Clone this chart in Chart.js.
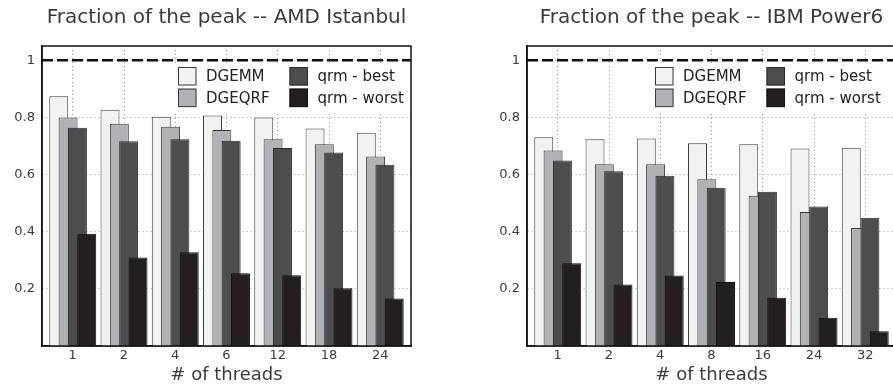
<!DOCTYPE html>
<html>
<head>
<meta charset="utf-8">
<script src="https://cdn.jsdelivr.net/npm/chart.js@4"></script>
<style>
  html, body { margin: 0; padding: 0; background: #fff; overflow: hidden; }
  #wrap { position: relative; width: 893px; height: 388px; overflow: hidden; }
  canvas { position: absolute; top: 0; }
  #amdChart { left: 0; }
  #ibmChart { left: 485px; }
</style>
</head>
<body>
<div id="wrap">
  <canvas id="amdChart" width="434" height="388"></canvas>
  <canvas id="ibmChart" width="434" height="388"></canvas>
</div>
<script>
// categories (# of threads)
const threadsAMD = ['1', '2', '4', '6', '12', '18', '24'];
const threadsIBM = ['1', '2', '4', '8', '16', '24', '32'];

// series names
const seriesNames = ['DGEMM', 'DGEQRF', 'qrm - best', 'qrm - worst'];

// AMD Istanbul values
const amdDgemm = [0.874, 0.827, 0.802, 0.807, 0.800, 0.761, 0.746];
const amdDgeqrf = [0.800, 0.778, 0.767, 0.756, 0.724, 0.706, 0.663];
const amdQrmBest = [0.764, 0.717, 0.724, 0.718, 0.693, 0.677, 0.634];
const amdQrmWorst = [0.393, 0.310, 0.328, 0.255, 0.248, 0.202, 0.166];

// IBM Power6 values
const ibmDgemm = [0.731, 0.724, 0.726, 0.710, 0.706, 0.691, 0.694];
const ibmDgeqrf = [0.684, 0.636, 0.636, 0.584, 0.526, 0.469, 0.413];
const ibmQrmBest = [0.649, 0.612, 0.596, 0.554, 0.540, 0.488, 0.449];
const ibmQrmWorst = [0.290, 0.215, 0.247, 0.224, 0.169, 0.099, 0.052];

// y axis ticks and the peak reference line
const yTickValues = [0.2, 0.4, 0.6, 0.8, 1];
const yTickLabels = ['0.2', '0.4', '0.6', '0.8', '1'];
const peakLevel = 1;

// styles
const fillColors = ['#f1f2f2', '#b1b2b5', '#4d4d4f', '#231f20'];
const edgeColors = ['#3a3a3a', '#3a3a3a', '#2a2a2a', '#111111'];
const FONT = '"DejaVu Sans", sans-serif';
const TEXT = '#3a3a3a';

// bars of one group overlap: each series sits on its own hidden axis, shifted a bit
const X_MIN = 0.4, X_MAX = 7.6;
const barShift = [-0.273, -0.091, 0.091, 0.273];

// dashed peak line, legend and the full axes frame
const plotExtras = {
  id: 'plotExtras',
  afterDatasetsDraw(chart) {
    const { ctx, chartArea: a, scales } = chart;
    const y = scales.y.getPixelForValue(peakLevel);
    ctx.save();
    ctx.strokeStyle = '#111';
    ctx.lineWidth = 2.5;
    ctx.setLineDash([11, 4]);
    ctx.beginPath();
    ctx.moveTo(a.left, y);
    ctx.lineTo(a.right, y);
    ctx.stroke();
    ctx.restore();
  },
  afterDraw(chart, args, opts) {
    const { ctx, chartArea: a } = chart;
    ctx.save();
    // legend
    const x0 = a.left + opts.legendLeft;
    const y0 = a.top + 21;
    const box = 18.5, rowGap = 21.6, colGap = 111.5;
    ctx.fillStyle = '#fff';
    ctx.fillRect(x0 - 4, y0 - 4, colGap + 105, rowGap + box + 8);
    ctx.font = '15px ' + FONT;
    ctx.textBaseline = 'middle';
    seriesNames.forEach((name, i) => {
      const bx = x0 + Math.floor(i / 2) * colGap;
      const by = y0 + (i % 2) * rowGap;
      ctx.fillStyle = fillColors[i];
      ctx.fillRect(bx, by, box, box);
      ctx.strokeStyle = edgeColors[i];
      ctx.lineWidth = 1;
      ctx.strokeRect(bx + 0.5, by + 0.5, box - 1, box - 1);
      ctx.fillStyle = '#222';
      ctx.fillText(name, bx + 28, by + box / 2 + 1);
    });
    // top / right frame of the axes box
    ctx.strokeStyle = '#111';
    ctx.lineWidth = 1.5;
    ctx.strokeRect(a.left, a.top, a.right - a.left, a.bottom - a.top);
    ctx.restore();
  }
};

const makeChart = (canvasId, title, labels, series, legendLeft) => {
  const hiddenAxes = {};
  barShift.forEach((s, k) => {
    hiddenAxes['xs' + k] = {
      type: 'linear', display: false, offset: false,
      min: X_MIN - s, max: X_MAX - s
    };
  });

  return new Chart(document.getElementById(canvasId).getContext('2d'), {
    type: 'bar',
    data: {
      datasets: series.map((values, k) => ({
        label: seriesNames[k],
        data: values.map((v, i) => ({ x: i + 1, y: v })),
        xAxisID: 'xs' + k,
        grouped: false,
        backgroundColor: fillColors[k],
        borderColor: edgeColors[k],
        borderWidth: 1,
        categoryPercentage: 1,
        barPercentage: 0.37,
        order: series.length - k,
      }))
    },
    options: {
      responsive: false,
      animation: false,
      layout: { padding: { left: 0, right: 23, top: 0, bottom: 0 } },
      scales: {
        x: {
          type: 'linear',
          offset: false,
          min: X_MIN,
          max: X_MAX,
          grid: { color: '#9a9a9a', lineWidth: 1, drawTicks: false, offset: false },
          border: { color: '#111', width: 1.5, dash: [1, 3] },
          ticks: {
            stepSize: 1,
            includeBounds: false,
            padding: 2,
            color: TEXT,
            font: { family: FONT, size: 13 },
            callback: (v) => labels[v - 1] || ''
          },
          title: {
            display: true,
            text: '# of threads',
            color: TEXT,
            font: { family: FONT, size: 18 },
            padding: { top: 0, bottom: 2 }
          },
          afterFit: (s) => { s.height = 42; }
        },
        ...hiddenAxes,
        y: {
          min: 0,
          max: 1.05,
          afterBuildTicks: (s) => { s.ticks = yTickValues.map(v => ({ value: v })); },
          grid: { color: '#9a9a9a', lineWidth: 1, drawTicks: false },
          border: { color: '#111', width: 1.5, dash: [1, 3] },
          ticks: {
            padding: 7,
            color: TEXT,
            font: { family: FONT, size: 13 },
            callback: (v) => {
              const i = yTickValues.findIndex(t => Math.abs(t - v) < 1e-6);
              return i >= 0 ? yTickLabels[i] : '';
            }
          },
          afterFit: (s) => { s.width = 42; }
        }
      },
      plugins: {
        legend: { display: false },
        tooltip: { enabled: false },
        title: {
          display: true,
          text: title,
          fullSize: false,
          color: TEXT,
          font: { family: FONT, size: 20, weight: 'normal' },
          padding: { top: 6, bottom: 16 }
        },
        plotExtras: { legendLeft }
      }
    },
    plugins: [plotExtras]
  });
};

makeChart('amdChart', 'Fraction of the peak -- AMD Istanbul', threadsAMD,
  [amdDgemm, amdDgeqrf, amdQrmBest, amdQrmWorst], 136);
makeChart('ibmChart', 'Fraction of the peak -- IBM Power6', threadsIBM,
  [ibmDgemm, ibmDgeqrf, ibmQrmBest, ibmQrmWorst], 128);
</script>
</body>
</html>
